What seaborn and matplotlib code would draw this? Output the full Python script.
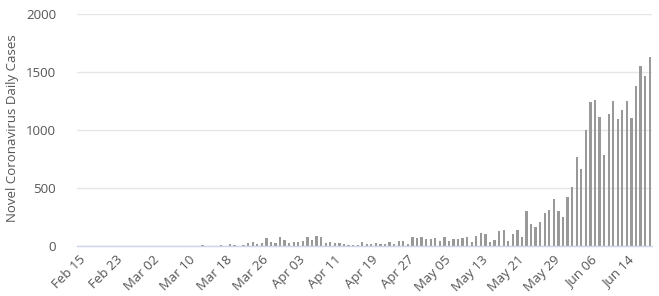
import matplotlib
matplotlib.use("Agg")
import matplotlib.pyplot as plt
import seaborn as sns
import pandas as pd

# Categories: one bar per day, Feb 15 – Jun 19 (2020)
dates = pd.date_range("2020-02-15", "2020-06-19", freq="D")
date_labels = [d.strftime("%b %d") for d in dates]

daily_cases = (
    [0] * 27 +
    [11, 0, 0, 0, 11, 0, 20, 11, 0, 14,
     31, 37, 23, 31, 69, 37, 29, 78, 57, 29,
     37, 37, 48, 78, 54, 89, 80, 29, 37, 31,
     29, 17, 11, 11, 11, 37, 23, 23, 29, 23,
     23, 40, 23, 46, 48, 23, 78, 69, 78, 60,
     60, 69, 43, 78, 43, 60, 60, 72, 78, 35,
     86, 115, 103, 37, 57, 132, 140, 48, 106, 140,
     78, 302, 192, 169, 212, 284, 313, 408, 302, 255,
     428, 514, 772, 669, 1002, 1244, 1261, 1112, 784, 1140,
     1250, 1095, 1175, 1250, 1103, 1382, 1554, 1462, 1629]
)

tick_labels = ["Feb 15", "Feb 23", "Mar 02", "Mar 10", "Mar 18", "Mar 26",
               "Apr 03", "Apr 11", "Apr 19", "Apr 27", "May 05", "May 13",
               "May 21", "May 29", "Jun 06", "Jun 14"]
y_ticks = [0, 500, 1000, 1500, 2000]

df = pd.DataFrame({"date": date_labels, "cases": daily_cases})

sns.set_style("white")
plt.rcParams["font.family"] = ["Open Sans", "DejaVu Sans"]

fig = plt.figure(figsize=(6.59, 2.96), dpi=100)
ax = fig.add_axes([77 / 659, 49.7 / 296, 575 / 659, 232.3 / 296])

sns.barplot(data=df, x="date", y="cases", color="#999999", saturation=1,
            width=0.5, ax=ax, order=date_labels, linewidth=0)
for p in ax.patches:
    p.set_antialiased(False)

ax.set_xlim(-0.5, len(date_labels) - 0.5)
ax.set_ylim(0, 2000)
ax.set_yticks(y_ticks)
ax.set_yticklabels([str(v) for v in y_ticks], color="#555555", fontsize=9.5)

tick_pos = [date_labels.index(t) for t in tick_labels]
ax.set_xticks(tick_pos)
ax.set_xticklabels(tick_labels, rotation=45, ha="right", rotation_mode="anchor",
                   color="#555555", fontsize=9.5)

ax.tick_params(axis="both", length=0)
ax.tick_params(axis="y", pad=15)
ax.tick_params(axis="x", pad=5)

ax.set_xlabel("")
ax.set_ylabel("Novel Coronavirus Daily Cases", color="#555555", fontsize=9.5)
ax.yaxis.set_label_coords(-0.1, 0.509)

ax.yaxis.grid(True, color="#e6e6e6", linewidth=1)
ax.set_axisbelow(True)
for s in ["top", "right", "left"]:
    ax.spines[s].set_visible(False)
ax.spines["bottom"].set_color("#ccd6eb")
ax.spines["bottom"].set_linewidth(1)

fig.savefig("out.png", dpi=100)
